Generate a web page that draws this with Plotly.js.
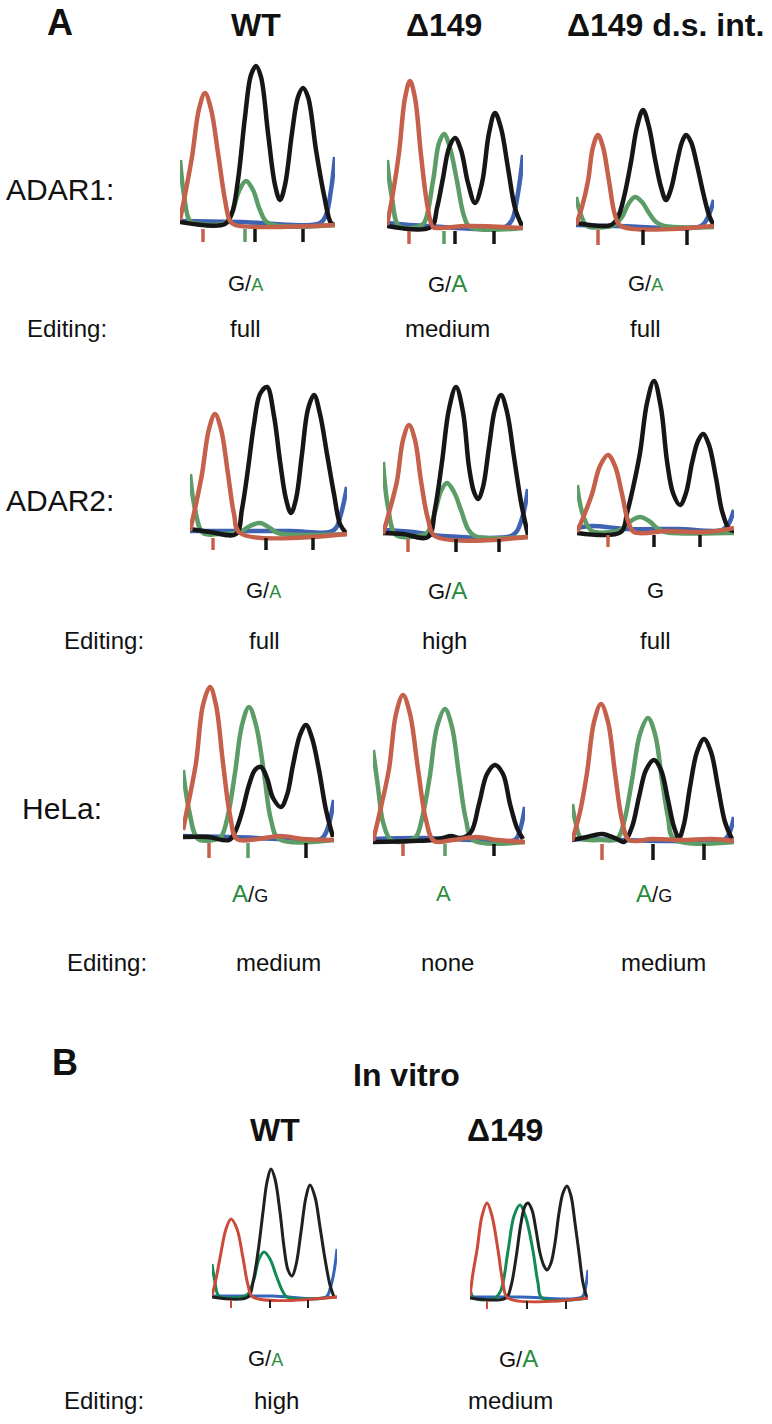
<!DOCTYPE html>
<html><head><meta charset="utf-8">
<script src="https://cdn.plot.ly/plotly-3.0.1.min.js"></script>
<style>html,body{margin:0;padding:0;background:#fff}</style>
</head><body><div id="chart" style="width:772px;height:1424px"></div>
<script>
// ---------- DATA (scan position, signal intensity) ----------
// Panel A, ADAR1
const A1_WT_blue  = [[0,4],[60,3],[140,2],[146,10],[151,35],[155,68]];
const A1_WT_green = [[0,65],[4,30],[10,4],[20,1],[45,2],[52,12],[59,34],[66,44],[73,35],[80,15],[88,2],[155,0]];
const A1_WT_black = [[0,3],[45,1],[52,12],[58,45],[65,108],[71,150],[76,159],[81,148],[88,92],[95,40],[100,25],[105,40],[112,92],[118,128],[123,137],[128,128],[136,75],[144,30],[151,2],[155,0]];
const A1_WT_red   = [[0,5],[5,30],[12,68],[19,116],[25,132],[31,116],[38,72],[45,25],[50,4],[55,0],[155,0]];
const A1_WT_ticks = [[23,'red'],[65,'green'],[75,'black'],[123,'black']];

const A1_D_blue  = [[0,5],[40,2],[118,1],[125,8],[131,35],[136,73]];
const A1_D_green = [[0,68],[5,30],[12,2],[30,1],[37,5],[46,47],[52,85],[57,94],[63,80],[70,47],[77,12],[83,1],[136,0]];
const A1_D_black = [[0,2],[44,1],[50,20],[56,50],[62,80],[68,90],[74,78],[81,45],[88,25],[95,45],[102,95],[108,115],[114,100],[121,60],[128,20],[135,2]];
const A1_D_red   = [[0,3],[6,35],[12,75],[18,130],[23,147],[28,130],[34,73],[40,25],[46,1],[52,0],[80,2],[136,0]];
const A1_D_ticks = [[22,'red'],[57,'green'],[68,'black'],[107,'black']];

const A1_DS_blue  = [[0,2],[40,1],[125,1],[131,8],[138,27]];
const A1_DS_green = [[0,30],[5,12],[11,1],[30,0],[38,2],[46,10],[53,24],[59,30],[66,25],[73,14],[80,5],[88,1],[138,0]];
const A1_DS_black = [[0,4],[35,2],[42,10],[48,30],[55,65],[61,100],[67,117],[73,100],[79,68],[85,40],[90,27],[95,38],[101,65],[106,85],[110,92],[115,85],[121,62],[127,35],[133,12],[138,1]];
const A1_DS_red   = [[0,2],[6,20],[12,46],[17,80],[22,92],[27,80],[33,46],[39,12],[45,1],[138,1]];
const A1_DS_ticks = [[22,'red'],[67,'black'],[111,'black']];

// Panel A, ADAR2
const A2_WT_blue  = [[0,3],[40,3],[100,3],[140,2],[146,6],[151,20],[157,47]];
const A2_WT_green = [[0,60],[5,25],[13,1],[30,0],[50,2],[60,8],[70,11],[80,6],[88,1],[157,0]];
const A2_WT_black = [[0,5],[20,2],[46,0],[52,25],[58,65],[64,110],[70,140],[77,147],[84,118],[90,73],[96,35],[101,21],[106,35],[112,80],[118,125],[124,139],[130,120],[137,80],[144,40],[150,10],[156,1]];
const A2_WT_red   = [[0,3],[6,30],[12,60],[19,105],[25,120],[31,105],[38,60],[44,20],[50,1],[157,0]];
const A2_WT_ticks = [[23,'red'],[76,'black'],[123,'black']];

const A2_D_blue  = [[0,7],[30,5],[60,1],[128,1],[134,6],[140,22],[145,48]];
const A2_D_green = [[0,75],[5,30],[13,2],[35,1],[44,4],[52,25],[58,46],[64,54],[71,45],[78,27],[85,8],[92,1],[145,0]];
const A2_D_black = [[0,4],[20,3],[45,0],[52,28],[59,75],[66,128],[73,150],[80,125],[86,70],[91,45],[95,38],[100,50],[106,90],[112,128],[118,142],[124,125],[131,80],[138,35],[145,2]];
const A2_D_red   = [[0,3],[7,28],[14,56],[20,97],[26,112],[32,97],[38,56],[45,18],[52,1],[145,0]];
const A2_D_ticks = [[25,'red'],[73,'black'],[116,'black']];

const A2_DS_blue  = [[0,5],[15,7],[50,4],[100,4],[145,3],[151,8],[157,23]];
const A2_DS_green = [[0,48],[6,18],[15,2],[35,1],[45,4],[54,12],[63,16],[72,12],[80,5],[88,1],[150,0],[157,0]];
const A2_DS_black = [[0,0],[44,1],[50,20],[56,45],[63,80],[70,130],[77,152],[84,125],[90,72],[96,40],[103,28],[109,40],[115,70],[121,92],[126,99],[132,88],[139,55],[145,22],[152,4],[157,2]];
const A2_DS_red   = [[0,1],[8,20],[15,39],[23,67],[31,78],[38,67],[45,39],[51,12],[57,1],[90,2],[120,1],[140,2],[157,5]];
const A2_DS_ticks = [[31,'red'],[77,'black'],[123,'black']];

// Panel A, HeLa
const HL_WT_blue  = [[0,4],[50,3],[100,1],[138,1],[144,10],[151,40]];
const HL_WT_green = [[0,70],[6,30],[15,1],[30,0],[38,3],[45,25],[52,67],[59,115],[66,133],[73,115],[81,67],[88,20],[96,1],[151,0]];
const HL_WT_black = [[0,3],[25,3],[46,0],[52,8],[59,28],[66,55],[72,70],[78,73],[84,62],[90,42],[98,33],[104,45],[110,75],[117,105],[123,115],[129,102],[136,70],[143,30],[150,3]];
const HL_WT_red   = [[0,10],[6,40],[13,77],[20,135],[27,153],[33,135],[40,77],[47,25],[54,1],[75,1],[97,4],[120,1],[151,0]];
const HL_WT_ticks = [[26,'red'],[65,'green'],[123,'black']];

const HL_D_blue  = [[0,3],[50,4],[100,2],[142,2],[147,12],[152,35]];
const HL_D_green = [[0,92],[5,55],[10,20],[18,2],[35,1],[43,5],[50,28],[57,67],[64,115],[72,133],[79,115],[86,67],[93,22],[100,2],[152,0]];
const HL_D_black = [[0,0],[40,1],[60,2],[70,4],[78,6],[88,4],[98,10],[106,38],[114,68],[122,77],[130,68],[137,38],[144,14],[150,3]];
const HL_D_red   = [[0,1],[8,35],[16,73],[23,128],[30,147],[37,128],[45,73],[53,22],[61,1],[80,2],[103,5],[125,2],[152,0]];
const HL_D_ticks = [[30,'red'],[72,'green'],[121,'black']];

const HL_DS_blue  = [[0,3],[50,2],[100,1],[150,1],[156,6],[162,25]];
const HL_DS_green = [[0,38],[4,18],[9,4],[30,2],[45,3],[52,20],[60,62],[68,108],[76,124],[83,108],[90,62],[96,25],[102,3],[162,0]];
const HL_DS_black = [[0,2],[15,5],[30,8],[45,3],[52,0],[60,15],[67,45],[74,72],[82,82],[89,72],[96,42],[102,15],[107,4],[112,18],[118,55],[125,90],[132,103],[139,90],[146,55],[153,20],[160,3]];
const HL_DS_red   = [[0,1],[8,30],[15,69],[22,120],[29,138],[36,120],[43,69],[50,22],[57,2],[80,3],[110,2],[140,3],[162,1]];
const HL_DS_ticks = [[30,'red'],[81,'black'],[132,'black']];

// Panel B, in vitro
const IV_WT_blue  = [[0,1],[60,1],[114,0],[118,8],[122,25],[125,48]];
const IV_WT_green = [[0,33],[3,15],[7,1],[30,0],[36,3],[42,18],[47,38],[52,45],[58,38],[64,22],[70,7],[75,0],[125,0]];
const IV_WT_black = [[0,0],[36,0],[41,15],[46,45],[51,85],[55,115],[59,128],[63,118],[68,85],[72,50],[76,27],[80,21],[84,32],[89,65],[94,100],[98,112],[103,100],[108,70],[113,38],[118,12],[122,0]];
const IV_WT_red   = [[0,1],[4,18],[8,39],[14,68],[19,78],[25,68],[31,39],[36,12],[41,0],[125,0]];
const IV_WT_ticks = [[19,'red'],[58,'black'],[96,'black']];

const IV_D_blue  = [[0,1],[50,1],[112,1],[115,8],[118,28]];
const IV_D_green = [[0,10],[4,0],[25,0],[31,8],[38,47],[44,82],[50,93],[56,80],[63,47],[68,15],[72,0],[118,0]];
const IV_D_black = [[0,0],[36,0],[41,12],[46,40],[51,75],[55,92],[58,95],[62,88],[66,68],[70,45],[74,32],[77,28],[81,35],[85,55],[89,85],[93,105],[97,112],[101,102],[105,75],[109,45],[113,15],[117,0]];
const IV_D_red   = [[0,2],[3,25],[7,48],[12,82],[17,95],[22,82],[28,48],[33,15],[38,0],[118,0]];
const IV_D_ticks = [[17,'red'],[57,'black'],[96,'black']];

// Text
const columnTitles = ['WT', '\u0394149', '\u0394149 d.s. int.'];
const rowLabels = ['ADAR1:', 'ADAR2:', 'HeLa:'];
const baseCallsA = [['G/A','G/A','G/A'], ['G/A','G/A','G'], ['A/G','A','A/G']];
const minorSmallA = [[true,false,true], [true,false,false], [true,false,true]];
const editingA = [['full','medium','full'], ['full','high','full'], ['medium','none','medium']];
const panelBLabel = 'In vitro';
const columnTitlesB = ['WT', '\u0394149'];
const baseCallsB = ['G/A', 'G/A'];
const minorSmallB = [true, false];
const editingB = ['high', 'medium'];
const editingLabel = 'Editing:';

// ---------- LAYOUT / STYLE ----------
const W = 772, H = 1424;
const palA = {red:'#c5604b', green:'#5c9c66', black:'#161616', blue:'#3f62b2'};
const palB = {red:'#cc4a3a', green:'#138a55', black:'#202020', blue:'#3366bb'};
const FONT = 'Liberation Sans, Arial, Helvetica, sans-serif';
const GREEN_TXT = '#2a8c3e';

const panels = [
  {left:180, base:225, width:155, lw:4.5, pal:palA, tk:[4,17], d:[A1_WT_blue,A1_WT_green,A1_WT_black,A1_WT_red], ticks:A1_WT_ticks},
  {left:387, base:228, width:136, lw:4.5, pal:palA, tk:[3,16], d:[A1_D_blue,A1_D_green,A1_D_black,A1_D_red], ticks:A1_D_ticks},
  {left:576, base:227, width:138, lw:4.5, pal:palA, tk:[3,18], d:[A1_DS_blue,A1_DS_green,A1_DS_black,A1_DS_red], ticks:A1_DS_ticks},
  {left:190, base:534, width:157, lw:4.5, pal:palA, tk:[4,16], d:[A2_WT_blue,A2_WT_green,A2_WT_black,A2_WT_red], ticks:A2_WT_ticks},
  {left:383, base:537, width:145, lw:4.5, pal:palA, tk:[2,15], d:[A2_D_blue,A2_D_green,A2_D_black,A2_D_red], ticks:A2_D_ticks},
  {left:577, base:533, width:157, lw:4.5, pal:palA, tk:[2,14], d:[A2_DS_blue,A2_DS_green,A2_DS_black,A2_DS_red], ticks:A2_DS_ticks},
  {left:183, base:840, width:151, lw:4.5, pal:palA, tk:[3,18], d:[HL_WT_blue,HL_WT_green,HL_WT_black,HL_WT_red], ticks:HL_WT_ticks},
  {left:373, base:842, width:152, lw:4.5, pal:palA, tk:[2,14], d:[HL_D_blue,HL_D_green,HL_D_black,HL_D_red], ticks:HL_D_ticks},
  {left:572, base:842, width:162, lw:4.5, pal:palA, tk:[2,18], d:[HL_DS_blue,HL_DS_green,HL_DS_black,HL_DS_red], ticks:HL_DS_ticks},
  {left:212, base:1297, width:125, lw:3, pal:palB, tk:[3,11], d:[IV_WT_blue,IV_WT_green,IV_WT_black,IV_WT_red], ticks:IV_WT_ticks},
  {left:470, base:1298, width:118, lw:3, pal:palB, tk:[3,11], d:[IV_D_blue,IV_D_green,IV_D_black,IV_D_red], ticks:IV_D_ticks}
];
const colorKeys = ['blue','green','black','red'];
const YLO = -30, YHI = 180;

const traces = [];
const layout = {
  width: W, height: H, margin:{l:0,r:0,t:0,b:0},
  paper_bgcolor:'#fff', plot_bgcolor:'rgba(0,0,0,0)',
  showlegend:false, annotations:[], font:{family:FONT, color:'#111'}
};

panels.forEach((p, i) => {
  const k = i + 1;
  const xa = 'x' + (k === 1 ? '' : k), ya = 'y' + (k === 1 ? '' : k);
  const xk = 'xaxis' + (k === 1 ? '' : k), yk = 'yaxis' + (k === 1 ? '' : k);
  layout[xk] = {domain:[p.left/W, (p.left+p.width)/W], range:[0,p.width], visible:false, fixedrange:true};
  layout[yk] = {domain:[(H - p.base + YLO)/H, (H - p.base + YHI)/H], range:[YLO,YHI], visible:false, fixedrange:true};
  p.d.forEach((arr, j) => {
    traces.push({type:'scatter', mode:'lines', xaxis:xa, yaxis:ya,
      x: arr.map(v => v[0]), y: arr.map(v => v[1]),
      line:{color:p.pal[colorKeys[j]], width:p.lw, shape:'spline', smoothing:1},
      hoverinfo:'skip'});
  });
  ['red','green','black'].forEach(c => {
    const tx = [], ty = [];
    p.ticks.filter(t => t[1] === c).forEach(t => { tx.push(t[0], t[0], null); ty.push(-p.tk[0], -p.tk[1], null); });
    if (tx.length) traces.push({type:'scatter', mode:'lines', xaxis:xa, yaxis:ya, x:tx, y:ty,
      line:{color:p.pal[c], width:p.lw > 4 ? 3.5 : 2}, hoverinfo:'skip'});
  });
});

function ann(text, px, py, size, opts) {
  opts = opts || {};
  layout.annotations.push({text, x:px/W, y:1 - py/H, xref:'paper', yref:'paper',
    xanchor:opts.anchor || 'center', yanchor:'middle', showarrow:false,
    font:{family:FONT, size, color:opts.color || '#111', weight: opts.bold ? 700 : 400}});
}
function callMarkup(call, small, size) {
  const parts = call.split('/');
  const sm = Math.round(size * 0.8), bg = Math.round(size * 1.08);
  const col = b => b === 'A' ? GREEN_TXT : '#111';
  if (parts.length === 1) return '<span style="color:' + col(parts[0]) + '">' + parts[0] + '</span>';
  const first = parts[0], second = parts[1];
  if (first === 'A') {
    return '<span style="color:' + GREEN_TXT + ';font-size:' + bg + 'px">A</span>/<span style="font-size:' + sm + 'px">' + second + '</span>';
  }
  return first + '/<span style="color:' + col(second) + ';font-size:' + (small ? sm : bg) + 'px">' + second + '</span>';
}

// headings
ann('A', 60, 22, 36, {bold:true});
columnTitles.forEach((t, c) => ann(t, [256, 444, 665][c], 25, 32, {bold:true}));
const rowY = [190, 500, 808], rowX = [4, 4, 20];
rowLabels.forEach((t, r) => ann(t, rowX[r], rowY[r], 30, {anchor:'left'}));
const callY = [283, 590, 893], editY = [328, 640, 962], editX = [25, 62, 65];
const callX = [[245, 448, 645], [263, 448, 655], [250, 443, 654]];
const editValX = [[245, 448, 645], [264, 444, 655], [278, 448, 663]];
baseCallsA.forEach((row, r) => row.forEach((c, j) => ann(callMarkup(c, minorSmallA[r][j], 22), callX[r][j], callY[r], 22)));
editingA.forEach((row, r) => {
  ann(editingLabel, editX[r], editY[r], 24, {anchor:'left'});
  row.forEach((e, j) => ann(e, editValX[r][j], editY[r], 24));
});
// panel B
ann('B', 65, 1062, 36, {bold:true});
ann(panelBLabel, 406, 1075, 32, {bold:true});
columnTitlesB.forEach((t, c) => ann(t, [275, 505][c], 1130, 32, {bold:true}));
baseCallsB.forEach((c, j) => ann(callMarkup(c, minorSmallB[j], 22), [265, 518][j], 1358, 22));
ann(editingLabel, 62, 1400, 24, {anchor:'left'});
editingB.forEach((e, j) => ann(e, [276, 510][j], 1400, 24));

Plotly.newPlot('chart', traces, layout, {staticPlot:true, displayModeBar:false});
</script></body></html>
